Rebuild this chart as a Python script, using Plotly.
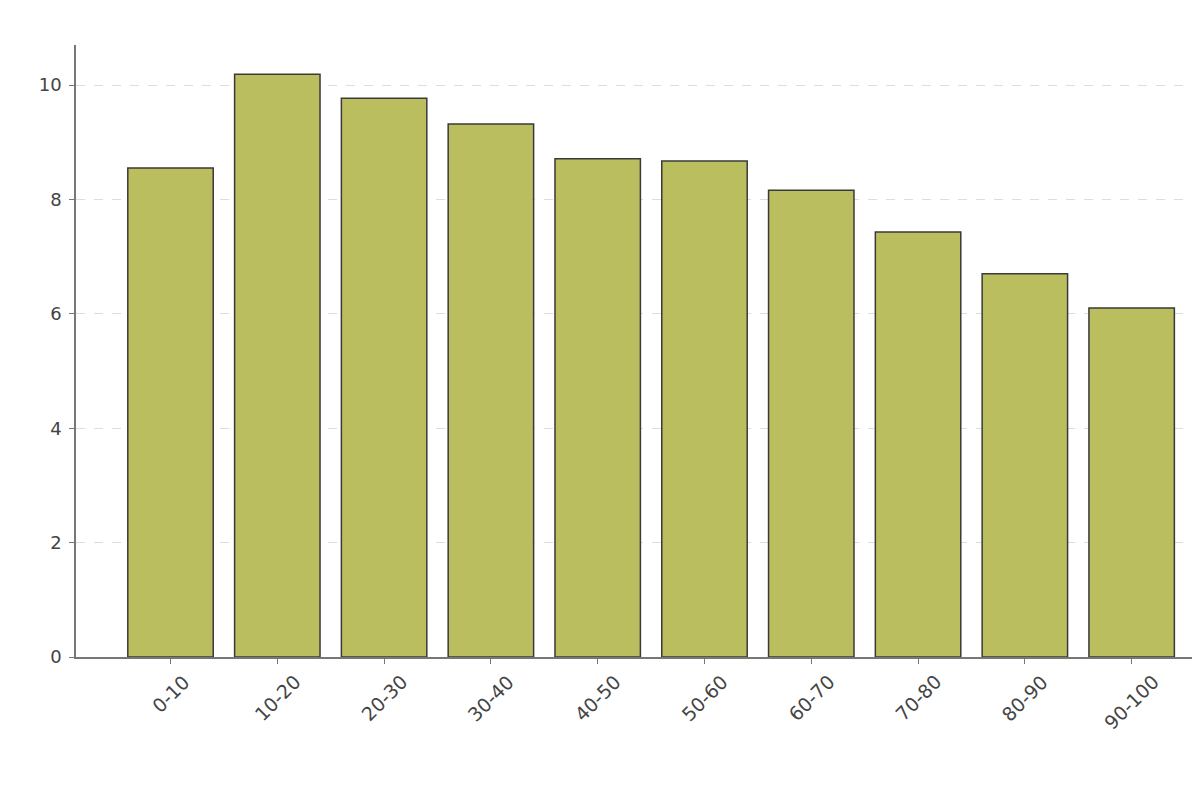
import plotly.graph_objects as go

categories = ["0-10", "10-20", "20-30", "30-40", "40-50", "50-60", "60-70", "70-80", "80-90", "90-100"]
values = [8.55, 10.19, 9.77, 9.32, 8.71, 8.67, 8.16, 7.43, 6.70, 6.10]
y_ticks = [0, 2, 4, 6, 8, 10]

fig = go.Figure(go.Bar(
    x=categories,
    y=values,
    width=0.8,
    marker=dict(color="#babe5f", line=dict(color="#3a3a3a", width=1.5)),
))

# x tick labels rotated 45 degrees and centred on their ticks
for c in categories:
    fig.add_annotation(
        x=c, xref="x", y=0, yref="paper",
        text=c, textangle=-45,
        xanchor="center", yanchor="top",
        yshift=-11, showarrow=False,
        font=dict(family="DejaVu Sans", size=19, color="#444"),
    )

fig.update_layout(
    width=1192, height=777,
    margin=dict(l=68, r=0, t=37, b=128),
    plot_bgcolor="white", paper_bgcolor="white",
    font=dict(family="DejaVu Sans", size=18, color="#444"),
    showlegend=False,
)
fig.update_xaxes(
    type="category",
    range=[-0.885, 9.64],
    showline=True, linecolor="#777", linewidth=1.5,
    ticks="outside", ticklen=5, tickcolor="#777",
    showticklabels=False,
    showgrid=False,
)
fig.update_yaxes(
    range=[0, 10.7],
    tickvals=y_ticks,
    showline=True, linecolor="#777", linewidth=1.5,
    ticks="outside", ticklen=5, tickcolor="#777",
    ticklabelstandoff=4,
    showgrid=True, gridcolor="#dddddd", griddash="dash", gridwidth=1,
    zeroline=False,
    tickfont=dict(size=18),
)

fig.write_html("out.html")
